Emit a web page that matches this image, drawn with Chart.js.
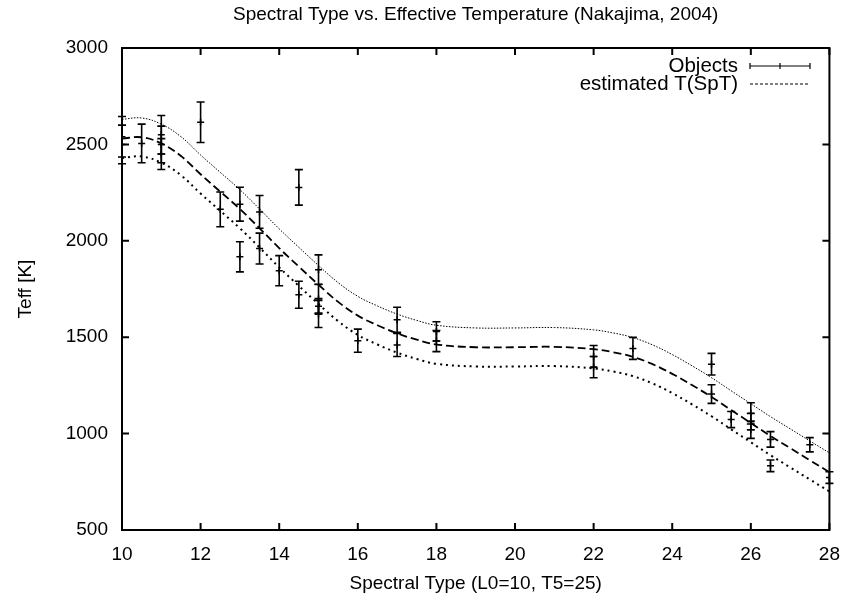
<!DOCTYPE html>
<html>
<head>
<meta charset="utf-8">
<script src="https://cdn.jsdelivr.net/npm/chart.js@4.4.1/dist/chart.umd.min.js"></script>
<style>
  html, body { margin: 0; padding: 0; background: #fff; }
</style>
</head>
<body>
<canvas id="teffChart" width="853" height="601"></canvas>
<script>
// observed objects: spectral type, Teff and error
const objSpt  = [10, 10, 10.5, 11, 11, 11, 12, 12.5, 13, 13, 13.5, 13.5, 14, 14.5, 14.5, 15, 15, 15, 15, 16, 17, 17, 18, 18, 22, 22, 23, 25, 25, 25.5, 26, 26, 26, 26.5, 26.5, 27.5, 28];
const objTeff = [2540, 2500, 2505, 2550, 2500, 2450, 2615, 2163, 2190, 1917, 2150, 1960, 1845, 2277, 1720, 1850, 1700, 1660, 1620, 1482, 1590, 1460, 1530, 1480, 1400, 1345, 1442, 1360, 1205, 1073, 1105, 1062, 1020, 970, 833, 942, 772];
const objErr  = [105, 100, 100, 100, 95, 80, 105, 90, 88, 78, 85, 80, 78, 92, 70, 77, 75, 40, 70, 60, 65, 60, 50, 55, 57, 55, 57, 56, 48, 42, 55, 42, 45, 40, 30, 37, 30];

// estimated T(SpT) curves
const curveSpt  = [10, 10.5, 11, 11.5, 12, 12.5, 13, 13.5, 14, 14.5, 15, 15.5, 16, 16.5, 17, 17.5, 18, 19, 20, 21, 22, 22.5, 23, 23.5, 24, 24.5, 25, 25.5, 26, 26.5, 27, 27.5, 28];
const curveMid  = [2530, 2537, 2505, 2440, 2345, 2255, 2165, 2065, 1962, 1866, 1772, 1683, 1612, 1562, 1520, 1487, 1462, 1448, 1448, 1450, 1438, 1422, 1398, 1360, 1310, 1252, 1190, 1122, 1055, 988, 925, 862, 800];
const curveHigh = [2630, 2637, 2605, 2540, 2445, 2355, 2265, 2165, 2062, 1966, 1872, 1783, 1712, 1662, 1620, 1587, 1562, 1548, 1548, 1550, 1538, 1522, 1498, 1460, 1410, 1352, 1290, 1222, 1155, 1088, 1025, 962, 900];
const curveLow  = [2430, 2437, 2405, 2340, 2245, 2155, 2065, 1965, 1862, 1766, 1672, 1583, 1512, 1462, 1420, 1387, 1362, 1348, 1348, 1350, 1338, 1322, 1298, 1260, 1210, 1152, 1090, 1022, 955, 888, 825, 762, 700];

const xTicks = [10, 12, 14, 16, 18, 20, 22, 24, 26, 28];
const yTicks = [500, 1000, 1500, 2000, 2500, 3000];

const FONT = 'Liberation Sans, Arial, sans-serif';
const TITLE = 'Spectral Type vs. Effective Temperature (Nakajima, 2004)';

function pts(xs, ys) {
  return xs.map((x, i) => ({ x: x, y: ys[i] }));
}

// vertical error bars with small caps
const errorBars = {
  id: 'errorBars',
  afterDatasetsDraw(chart) {
    const { ctx, scales: { x, y } } = chart;
    ctx.save();
    ctx.strokeStyle = '#000';
    ctx.lineWidth = 1.6;
    objSpt.forEach((s, i) => {
      const px = x.getPixelForValue(s);
      const hi = y.getPixelForValue(objTeff[i] + objErr[i]);
      const lo = y.getPixelForValue(objTeff[i] - objErr[i]);
      ctx.beginPath();
      ctx.moveTo(px, hi); ctx.lineTo(px, lo);
      ctx.moveTo(px - 4, hi); ctx.lineTo(px + 4, hi);
      ctx.moveTo(px - 4, lo); ctx.lineTo(px + 4, lo);
      ctx.stroke();
    });
    ctx.restore();
  }
};

// gnuplot style frame with inward ticks on all sides, the title and the key
const frame = {
  id: 'frame',
  afterDraw(chart) {
    const { ctx, chartArea: a, scales: { x, y } } = chart;
    ctx.save();
    ctx.strokeStyle = '#000';
    ctx.lineWidth = 2;
    ctx.strokeRect(a.left, a.top, a.right - a.left, a.bottom - a.top);
    ctx.beginPath();
    xTicks.forEach(v => {
      const px = x.getPixelForValue(v);
      ctx.moveTo(px, a.bottom); ctx.lineTo(px, a.bottom - 7);
      ctx.moveTo(px, a.top); ctx.lineTo(px, a.top + 7);
    });
    yTicks.forEach(v => {
      const py = y.getPixelForValue(v);
      ctx.moveTo(a.left, py); ctx.lineTo(a.left + 7, py);
      ctx.moveTo(a.right, py); ctx.lineTo(a.right - 7, py);
    });
    ctx.stroke();

    ctx.fillStyle = '#000';
    ctx.textBaseline = 'middle';
    ctx.font = '19px ' + FONT;
    ctx.textAlign = 'center';
    ctx.fillText(TITLE, (a.left + a.right) / 2, 15);

    // key
    ctx.font = '20.5px ' + FONT;
    ctx.textAlign = 'right';
    const tx = 738, x0 = 750, x1 = 810;
    ctx.fillText('Objects', tx, 66);
    ctx.fillText('estimated T(SpT)', tx, 84);
    ctx.lineWidth = 1.2;
    ctx.beginPath();
    ctx.moveTo(x0, 66); ctx.lineTo(x1, 66);
    ctx.moveTo(x0, 63); ctx.lineTo(x0, 69);
    ctx.moveTo(x1, 63); ctx.lineTo(x1, 69);
    ctx.moveTo((x0 + x1) / 2, 63); ctx.lineTo((x0 + x1) / 2, 69);
    ctx.stroke();
    ctx.setLineDash([3, 2]);
    ctx.beginPath();
    ctx.moveTo(x0, 84); ctx.lineTo(x1, 84);
    ctx.stroke();
    ctx.restore();
  }
};

new Chart(document.getElementById('teffChart').getContext('2d'), {
  type: 'scatter',
  data: {
    datasets: [
      { label: 'Objects', data: pts(objSpt, objTeff), pointStyle: 'cross', pointRadius: 3.5,
        borderColor: '#000', backgroundColor: '#000', borderWidth: 1.5 },
      { label: 'upper', data: pts(curveSpt, curveHigh), showLine: true, pointRadius: 0,
        borderColor: '#000', borderWidth: 1, borderDash: [1.5, 1.5], tension: 0.4 },
      { label: 'estimated T(SpT)', data: pts(curveSpt, curveMid), showLine: true, pointRadius: 0,
        borderColor: '#000', borderWidth: 1.8, borderDash: [8, 4], tension: 0.4 },
      { label: 'lower', data: pts(curveSpt, curveLow), showLine: true, pointRadius: 0,
        borderColor: '#000', borderWidth: 2, borderDash: [2, 4], tension: 0.4 }
    ]
  },
  options: {
    responsive: false,
    animation: false,
    devicePixelRatio: 1,
    layout: { padding: { top: 48, right: 17, bottom: 0, left: 0 } },
    plugins: {
      legend: { display: false },
      tooltip: { enabled: false },
      title: { display: false }
    },
    scales: {
      x: {
        type: 'linear', min: 10, max: 28,
        afterBuildTicks: s => { s.ticks = xTicks.map(v => ({ value: v })); },
        afterFit: s => { s.height = 71; },
        grid: { display: false, drawTicks: false },
        border: { display: false },
        ticks: { color: '#000', font: { family: FONT, size: 19 }, padding: 13, maxRotation: 0,
                 callback: v => String(v) },
        title: { display: true, text: 'Spectral Type (L0=10, T5=25)', color: '#000',
                 font: { family: FONT, size: 19 }, padding: { top: 0, bottom: 6 } }
      },
      y: {
        type: 'linear', min: 500, max: 3000,
        afterBuildTicks: s => { s.ticks = yTicks.map(v => ({ value: v })); },
        afterFit: s => { s.width = 122; },
        grid: { display: false, drawTicks: false },
        border: { display: false },
        ticks: { color: '#000', font: { family: FONT, size: 19 }, padding: 14,
                 callback: v => String(v) },
        title: { display: true, text: 'Teff [K]', color: '#000',
                 font: { family: FONT, size: 19 }, padding: { top: 14, bottom: 0 } }
      }
    }
  },
  plugins: [errorBars, frame]
});
</script>
</body>
</html>
